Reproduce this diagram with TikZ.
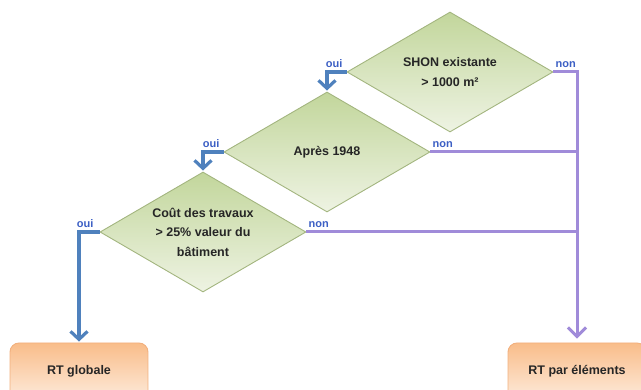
\documentclass[tikz,border=0pt]{standalone}
\usepackage{fontspec}
\setmainfont{Liberation Sans}
\usetikzlibrary{shapes.geometric, arrows.meta}
\definecolor{blueline}{HTML}{4F81BD}
\definecolor{purpleline}{HTML}{A08BD9}
\definecolor{lblblue}{HTML}{3C5FC4}
\definecolor{dtop}{HTML}{C2D69B}
\definecolor{dbot}{HTML}{EEF3E3}
\definecolor{dborder}{HTML}{A3B57F}
\definecolor{btop}{HTML}{F9BD8A}
\definecolor{bbot}{HTML}{FDEADA}
\definecolor{bborder}{HTML}{F2B07E}
\begin{document}
\begin{tikzpicture}[x=1pt,y=-1pt,
  decision/.style={diamond, shape aspect=1.72, minimum width=206pt, minimum height=120pt,
    inner sep=0pt, draw=dborder, line width=0.9pt, top color=dtop, bottom color=dbot,
    align=center, font=\bfseries\fontsize{12.5}{19.5}\selectfont, text=black!85},
  outcome/.style={rectangle, rounded corners=9pt, minimum width=138pt, minimum height=56pt,
    draw=bborder, line width=0.9pt, top color=btop, bottom color=bbot,
    font=\bfseries\fontsize{12.5}{14}\selectfont, text=black!85},
  yesline/.style={draw=blueline, line width=3.2pt, shorten >=1pt,
    -{Straight Barb[length=8pt,width=17pt]}},
  noline/.style={draw=purpleline, line width=3pt},
  noarrow/.style={noline, shorten >=4pt, -{Straight Barb[length=9pt,width=18pt]}},
  lbl/.style={font=\bfseries\fontsize{11}{12}\selectfont, text=lblblue, inner sep=0pt}
]
\useasboundingbox (0,0) rectangle (641,390);

\node[decision] (d1) at (450,72) {SHON existante\\> 1000 m²};
\node[decision] (d2) at (327,152) {Après 1948};
\node[decision] (d3) at (203,232) {Coût des travaux\\> 25\% valeur du\\bâtiment};

\node[outcome] (rtg) at (79,371) {RT globale};
\node[outcome] (rte) at (577,371) {RT par éléments};

% non branches
\draw[noline] (d2.east) -- (d2.east -| rte.north);
\draw[noline] (d3.east) -- (d3.east -| rte.north);
\draw[noarrow] (d1.east) -| (rte.north);

% oui branches
\draw[yesline] (d1.west) -| (d2.north);
\draw[yesline] (d2.west) -| (d3.north);
\draw[yesline] (d3.west) -| (rtg.north);

% labels
\node[lbl, anchor=base east] (o1) at ([shift={(-4,-4)}]d1.west) {oui};
\node[lbl, anchor=base west] (n1) at ([shift={(2,-4)}]d1.east) {non};
\node[lbl, anchor=base east] (o2) at ([shift={(-4,-4)}]d2.west) {oui};
\node[lbl, anchor=base west] (n2) at ([shift={(2,-4)}]d2.east) {non};
\node[lbl, anchor=base east] (o3) at ([shift={(-6,-4)}]d3.west) {oui};
\node[lbl, anchor=base west] (n3) at ([shift={(2,-4)}]d3.east) {non};
\end{tikzpicture}
\end{document}
